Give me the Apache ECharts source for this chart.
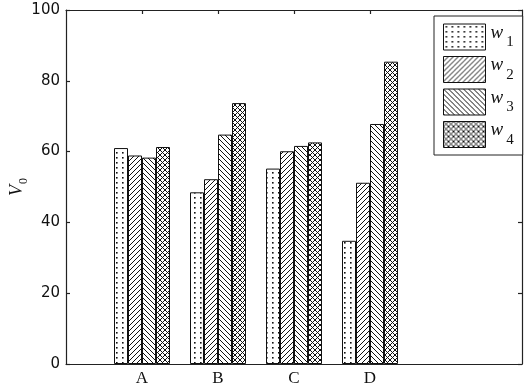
<!DOCTYPE html>
<html><head><meta charset="utf-8">
<script src="https://cdn.jsdelivr.net/npm/echarts@6/dist/echarts.min.js"></script>
<style>html,body{margin:0;padding:0;background:#fff}#c{width:526px;height:386px}</style>
</head><body><div id="c"></div>
<script>
const categories = ['A', 'B', 'C', 'D'];
const seriesNames = ['w1', 'w2', 'w3', 'w4'];
const w1 = [61.0, 48.5, 55.2, 34.8];
const w2 = [58.9, 52.2, 60.1, 51.2];
const w3 = [58.3, 64.8, 61.6, 67.8];
const w4 = [61.3, 73.7, 62.6, 85.4];
const yTicks = [0, 20, 40, 60, 80, 100];
const xTicks = [1, 2, 3, 4];

function tile(w, h, draw) {
  const c = document.createElement('canvas');
  c.width = w; c.height = h;
  const g = c.getContext('2d');
  g.fillStyle = '#fff'; g.fillRect(0, 0, w, h);
  g.strokeStyle = '#111'; g.fillStyle = '#111'; g.lineWidth = 1;
  draw(g, w, h);
  return { image: c, repeat: 'repeat' };
}
function fwd(g, n) {
  g.beginPath();
  g.moveTo(0, n); g.lineTo(n, 0);
  g.moveTo(-1, 1); g.lineTo(1, -1);
  g.moveTo(n - 1, n + 1); g.lineTo(n + 1, n - 1);
  g.stroke();
}
function back(g, n) {
  g.beginPath();
  g.moveTo(0, 0); g.lineTo(n, n);
  g.moveTo(n - 1, -1); g.lineTo(n + 1, 1);
  g.moveTo(-1, n - 1); g.lineTo(1, n + 1);
  g.stroke();
}
const patterns = [
  tile(6, 5, (g) => { g.fillRect(2, 2, 1.6, 1.6); }),
  tile(5, 5, (g, w) => fwd(g, w)),
  tile(5, 5, (g, w) => back(g, w)),
  tile(5, 5, (g, w) => { fwd(g, w); back(g, w); })
];
const vals = [w1, w2, w3, w4];

const chart = echarts.init(document.getElementById('c'), null, { renderer: 'canvas' });
const axisLine = { show: true, onZero: false, lineStyle: { color: '#222', width: 1.2 } };
const numFont = { fontFamily: 'DejaVu Sans', fontSize: 15, color: '#111' };
const tickStyle = { color: '#222', width: 1.2 };

chart.setOption({
  animation: false,
  backgroundColor: '#fff',
  grid: { left: 66, top: 10, right: 4, bottom: 22, containLabel: false, outerBoundsMode: 'none' },
  legend: {
    orient: 'vertical', left: 434, top: 16,
    padding: [7, 9, 7, 9], itemGap: 5,
    itemWidth: 42, itemHeight: 26, icon: 'rect',
    borderColor: '#222', borderWidth: 1, backgroundColor: '#fff',
    itemStyle: { borderColor: '#111', borderWidth: 1 },
    data: seriesNames,
    formatter: (n) => '{w|w}{s|' + n.slice(1) + '}',
    textStyle: {
      color: '#111',
      rich: {
        w: { fontFamily: 'Liberation Serif', fontStyle: 'italic', fontSize: 19, color: '#111', padding: [0, 0, 9, 0] },
        s: { fontFamily: 'Liberation Serif', fontSize: 15, color: '#111', padding: [11, 0, 0, 3] }
      }
    }
  },
  xAxis: [{
    type: 'value', min: 0, max: 6, interval: 1, position: 'bottom',
    axisLine: axisLine, splitLine: { show: false },
    axisTick: { show: true, inside: true, length: 4, lineStyle: tickStyle, customValues: xTicks },
    axisLabel: {
      margin: 6, fontFamily: 'Liberation Serif', fontSize: 17, color: '#111',
      customValues: xTicks,
      formatter: (v) => (v >= 1 && v <= categories.length) ? categories[v - 1] : ''
    }
  }, {
    type: 'value', min: 0, max: 6, interval: 1, position: 'top',
    axisLine: axisLine, splitLine: { show: false },
    axisTick: { show: true, inside: true, length: 4, lineStyle: tickStyle, customValues: xTicks },
    axisLabel: { show: false }
  }],
  yAxis: [{
    type: 'value', min: yTicks[0], max: yTicks[yTicks.length - 1], interval: 20, position: 'left',
    axisLine: axisLine, splitLine: { show: false },
    axisTick: { show: true, inside: true, length: 4, lineStyle: tickStyle },
    axisLabel: Object.assign({ margin: 6 }, numFont),
    name: '{v|V}{s|0}', nameLocation: 'middle', nameGap: 34, nameRotate: 90,
    nameMoveOverlap: false,
    nameTextStyle: {
      rich: {
        v: { fontFamily: 'Liberation Serif', fontStyle: 'italic', fontSize: 18, color: '#111', padding: [0, 0, 6, 0] },
        s: { fontFamily: 'Liberation Serif', fontSize: 12, color: '#111', padding: [8, 0, 0, 1] }
      }
    }
  }, {
    type: 'value', min: 0, max: 100, interval: 20, position: 'right',
    axisLine: axisLine, splitLine: { show: false },
    axisTick: { show: true, inside: true, length: 4, lineStyle: tickStyle },
    axisLabel: { show: false }
  }],
  series: seriesNames.map((n, i) => ({
    name: n, type: 'bar', xAxisIndex: 0, yAxisIndex: 0,
    barWidth: 14, barGap: '0%',
    itemStyle: { color: patterns[i], borderColor: '#111', borderWidth: 1 },
    data: vals[i].map((v, k) => [k + 1, v])
  }))
});
</script></body></html>
